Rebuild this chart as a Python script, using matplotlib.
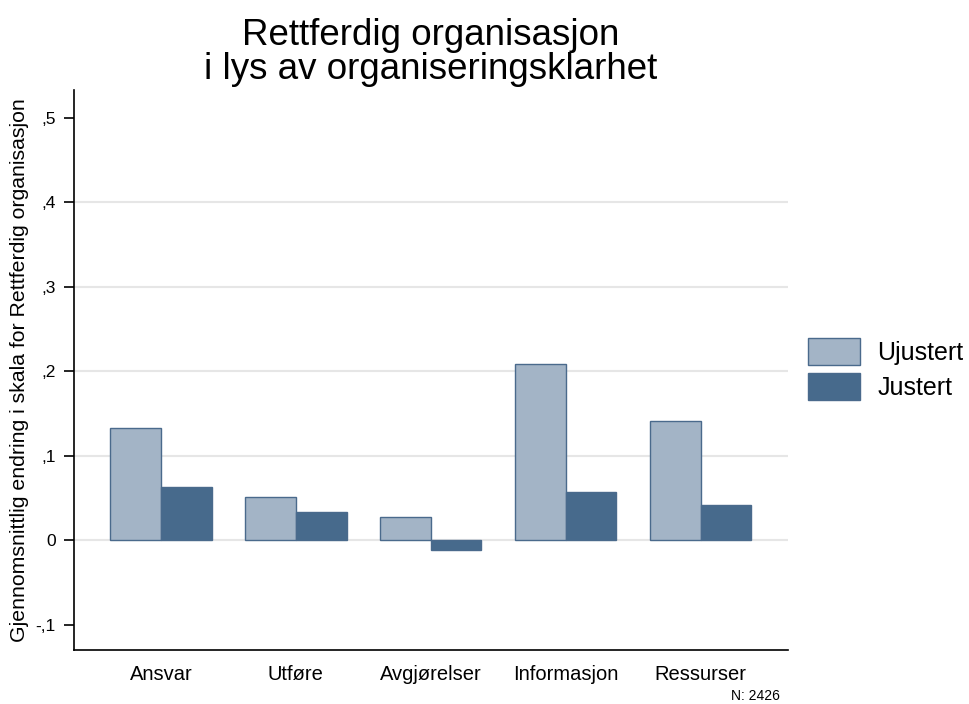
import matplotlib
matplotlib.use("Agg")
import matplotlib.pyplot as plt
import numpy as np

plt.rcParams["font.family"] = ["Liberation Sans", "DejaVu Sans"]

categories = ["Ansvar", "Utføre", "Avgjørelser", "Informasjon", "Ressurser"]
ujustert = [0.133, 0.051, 0.027, 0.209, 0.141]
justert = [0.063, 0.034, -0.011, 0.057, 0.042]
yticks = [-0.1, 0, 0.1, 0.2, 0.3, 0.4, 0.5]
yticklabels = ["-,1", "0", ",1", ",2", ",3", ",4", ",5"]

light = "#a3b4c6"
dark = "#476a8c"
edge = "#4a6a8c"

fig = plt.figure(figsize=(9.7, 7.04), dpi=100)
ax = fig.add_axes([0.0763, 0.0767, 0.7357, 0.7953])

x = np.arange(len(categories))
w = 0.375
ax.bar(x - w / 2, ujustert, w, color=light, edgecolor=edge, linewidth=1, label="Ujustert", zorder=3)
ax.bar(x + w / 2, justert, w, color=dark, edgecolor=edge, linewidth=1, label="Justert", zorder=3)

for g in [0, 0.1, 0.2, 0.3, 0.4]:
    ax.axhline(g, color="#e6e6e6", linewidth=1.5, zorder=1)

ax.set_xlim(-0.645, 4.645)
ax.set_ylim(-0.13, 0.533)
ax.set_yticks(yticks)
ax.set_yticklabels(yticklabels, fontsize=12.5)
ax.set_xticks(x)
ax.set_xticklabels(categories, fontsize=14.5)
ax.tick_params(axis="x", length=0, pad=11)
ax.tick_params(axis="y", length=7, width=1.2, pad=6)

for s in ["top", "right"]:
    ax.spines[s].set_visible(False)
ax.spines["left"].set_linewidth(1.2)
ax.spines["bottom"].set_linewidth(1.2)

ax.set_ylabel("Gjennomsnittlig endring i skala for Rettferdig organisasjon", fontsize=15.3, labelpad=5)
ax.set_title("Rettferdig organisasjon\ni lys av organiseringsklarhet", fontsize=26.5, linespacing=0.98, pad=8)

ax.legend(loc="upper left", bbox_to_anchor=(1.028, 0.557), frameon=False, fontsize=18,
          handlelength=2.08, handleheight=1.3, labelspacing=0.3, handletextpad=0.7,
          borderpad=0, borderaxespad=0)

fig.text(0.804, 0.002, "N: 2426", fontsize=10, ha="right", va="bottom")

fig.savefig("out.png", dpi=100)
